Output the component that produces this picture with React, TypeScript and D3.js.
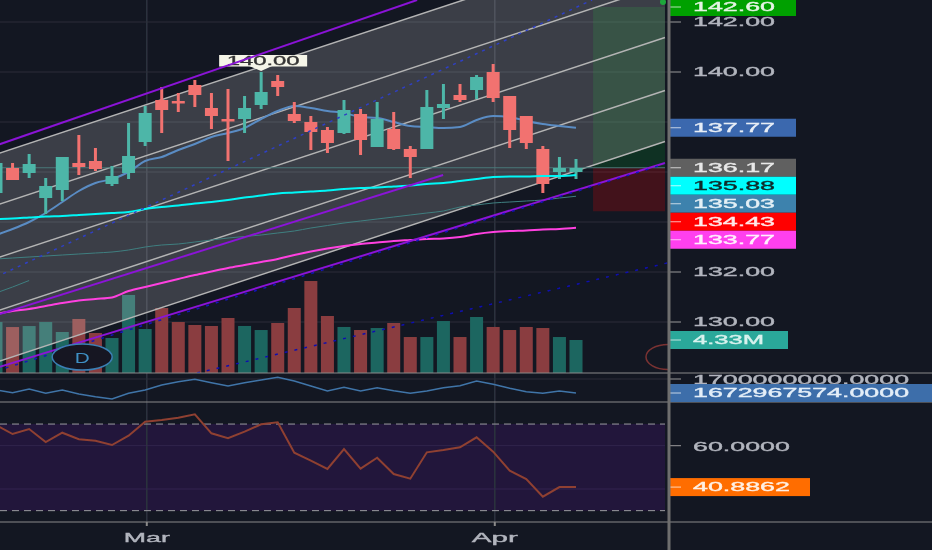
import React, { useEffect, useRef } from "react";
import * as d3 from "d3";

const WIDTH = 932;
const HEIGHT = 550;

// daily bars
const opens = [135.16, 136.16, 135.96, 134.96, 135.28, 136.36, 136.44, 135.52, 135.96, 137.2, 138.88, 138.84, 139.48, 138.56, 138.12, 138.12, 138.68, 139.64, 138.32, 138, 137.68, 137.56, 138.32, 137, 137.72, 136.92, 136.92, 138.56, 139.08, 139.28, 140, 139.04, 138.24, 136.92, 136, 136];
const highs = [136.36, 136.36, 136.72, 135.76, 136.6, 137.48, 136.96, 136.24, 137.96, 138.64, 139.4, 139.16, 139.68, 139.16, 139.32, 139.04, 140, 139.88, 138.8, 138.24, 137.8, 138.88, 138.52, 138.8, 138.4, 137.04, 139.28, 139.52, 139.52, 139.88, 140.32, 139.04, 138.24, 137.04, 136.6, 136.52];
const lows = [135.16, 135.68, 135.76, 134.32, 134.84, 135.88, 136.04, 135.44, 135.72, 137.04, 137.56, 138.4, 138.6, 137.72, 136.44, 137.56, 138.52, 139.04, 137.96, 136.88, 136.76, 137.52, 136.68, 137, 136.88, 135.76, 136.92, 138.12, 138.8, 138.92, 138.8, 136.96, 136.92, 135.16, 135.72, 135.72];
const closes = [136.36, 135.68, 136.32, 135.44, 136.6, 136.2, 136.12, 135.84, 136.64, 138.36, 138.48, 138.76, 139.08, 138.24, 138.04, 138.56, 139.2, 139.4, 138.04, 137.6, 137.16, 138.48, 137.28, 138.12, 136.92, 136.6, 138.6, 138.72, 138.88, 139.8, 138.96, 137.68, 137.16, 135.52, 136.16, 136.16];
const volumes = [6.69, 6.03, 6.16, 6.69, 5.38, 7.09, 5.25, 4.59, 10.24, 5.77, 8.53, 6.69, 6.3, 6.17, 7.22, 6.17, 5.64, 6.56, 8.53, 12.07, 7.48, 6.04, 5.64, 5.9, 6.56, 4.72, 4.72, 6.82, 4.72, 7.35, 6.04, 5.64, 6.04, 5.9, 4.72, 4.33];

// moving averages
const maBlue = [133.48, 133.72, 134, 134.36, 134.8, 135.24, 135.56, 135.72, 136, 136.44, 136.6, 136.88, 137.12, 137.4, 137.56, 137.76, 138.12, 138.44, 138.64, 138.56, 138.44, 138.36, 138.2, 138.16, 138, 137.84, 137.8, 137.76, 137.8, 138.08, 138.24, 138.2, 138.04, 137.92, 137.84, 137.77];
const maCyan = [134.12, 134.14, 134.18, 134.22, 134.24, 134.28, 134.32, 134.36, 134.4, 134.52, 134.6, 134.66, 134.74, 134.8, 134.88, 134.98, 135.06, 135.14, 135.18, 135.22, 135.26, 135.32, 135.36, 135.38, 135.42, 135.46, 135.52, 135.56, 135.64, 135.72, 135.8, 135.82, 135.82, 135.84, 135.84, 135.88];
const maPink = [130.32, 130.44, 130.52, 130.64, 130.76, 130.86, 130.92, 130.98, 131.24, 131.4, 131.56, 131.72, 131.88, 132.02, 132.16, 132.28, 132.4, 132.52, 132.68, 132.82, 132.94, 133.04, 133.12, 133.18, 133.24, 133.28, 133.32, 133.34, 133.4, 133.52, 133.6, 133.64, 133.66, 133.7, 133.72, 133.77];
const maTeal = [132.52, 132.56, 132.6, 132.64, 132.68, 132.72, 132.76, 132.8, 132.88, 133, 133.08, 133.12, 133.2, 133.28, 133.36, 133.42, 133.48, 133.56, 133.64, 133.76, 133.86, 133.96, 134.04, 134.12, 134.2, 134.28, 134.36, 134.44, 134.6, 134.68, 134.76, 134.8, 134.84, 134.88, 134.96, 135.03];
const maTealShort = [131.16, 131.4, 131.66];

// lower panes
const obv = [1678.8, 1673.6, 1680.7, 1672.4, 1678.8, 1671, 1665.8, 1661.4, 1672.4, 1678.8, 1688.4, 1694.8, 1699.4, 1692.9, 1686.5, 1692.9, 1698.1, 1703.3, 1696.1, 1686.5, 1676.8, 1684, 1676.8, 1683.2, 1677.4, 1672.4, 1676.8, 1683.2, 1687.1, 1696.1, 1689.8, 1682, 1675.5, 1672.4, 1676.8, 1672.97].map((d) => d * 1e6);
const rsi = [69.56, 65.4, 67.71, 61.71, 66, 62.96, 62.31, 60.32, 64.62, 71.09, 71.87, 72.93, 74.5, 65.73, 63.42, 66.47, 69.88, 70.81, 56.77, 53.07, 49.24, 58.48, 49.38, 54.46, 46.93, 44.76, 56.95, 58.01, 59.26, 63.88, 57.23, 48.45, 44.62, 36.44, 40.89, 40.89];

// drawn objects: [bar, price, bar, price]
const channelStartBar = 0;
const channelEndBar = 40.37;
const channelRise = 8.83;
const channelLevels = [136.71, 134.67, 132.55, 130.43, 128.39];
const purpleLines = [
  [0, 137.06, 25.41, 142.88],
  [0, 130.27, 26.98, 135.88],
  [0, 128.16, 40.37, 136.36],
];
const dottedUpper = [0, 131.8, 35.97, 142.88];
const dottedMiddle = [0, 128.04, 40.37, 136.32];
const dottedLower = [12.13, 127.96, 40.5, 132.36];

const positionBars = [36.03, 40.37];
const targetPrice = 142.6;
const entryPrice = 136.17;
const stopPrice = 134.43;
const highLabel = 140;

const priceTicks = [142, 140, 138, 136, 134, 132, 130];
const priceTickLabels = [142, 140, 132, 130];
const rsiGrid = [60, 40];
const monthLabels = ["Mar", "Apr"];
const monthBars = [9.1, 30.1];

// value tags: price, text, fill, text colour
const upperTags: [number, string, string, string][] = [
  [142.6, "142.60", "#00a000", "#e4f4e4"],
  [137.77, "137.77", "#3a68ae", "#e8eef6"],
];
const stackedTags: [number, string, string, string][] = [
  [136.17, "136.17", "#606060", "#e8e8e8"],
  [135.88, "135.88", "#00ffff", "#0b2a2a"],
  [135.03, "135.03", "#3d82ad", "#e4f0f6"],
  [134.43, "134.43", "#ff0000", "#ffe8e8"],
  [133.77, "133.77", "#ff40ee", "#fff0fd"],
];

const FONT = "'Liberation Sans', Arial, sans-serif";

// the source is a stretched screenshot, so text gets squeezed to a measured width
const textWidth = (s: string) =>
  Array.from(s).reduce((w, c) => w + (c === "." ? 7.5 : c === "M" ? 19 : 14.9), 0);

const App: React.FC = () => {
  const svgRef = useRef<SVGSVGElement | null>(null);

  useEffect(() => {
    if (!svgRef.current) return;
    const svg = d3.select(svgRef.current);
    svg.selectAll("*").remove();

    const bars = d3.range(opens.length);
    const x = d3.scaleLinear().domain([0, 35]).range([-4, 576]);
    const y = d3.scaleLinear().domain([130, 142]).range([322, 22]);
    const yVol = d3.scaleLinear().domain([0, 4.33]).range([373, 340]);
    const yObv = d3.scaleLinear().domain([1.7e9, 1672967574]).range([379, 393]);
    const yRsi = d3.scaleLinear().domain([60, 40]).range([445.7, 489]);

    const defs = svg.append("defs");
    defs.append("clipPath").attr("id", "main-clip").append("rect")
      .attr("x", 0).attr("y", 0).attr("width", 668).attr("height", 373);
    defs.append("filter").attr("id", "soft").append("feGaussianBlur").attr("stdDeviation", 0.5);

    svg.append("rect").attr("width", WIDTH).attr("height", HEIGHT).attr("fill", "#131722");

    const root = svg.append("g").attr("filter", "url(#soft)");

    // RSI band goes under the vertical grid
    root.append("rect").attr("x", 0).attr("width", 665).attr("y", yRsi(70)).attr("height", yRsi(30) - yRsi(70))
      .attr("fill", "#22173b");

    monthBars.forEach((b) => {
      root.append("line").attr("x1", x(b)).attr("x2", x(b)).attr("y1", 0).attr("y2", 522)
        .attr("stroke", "#2c303c").attr("stroke-width", 1.6);
    });

    const main = root.append("g").attr("clip-path", "url(#main-clip)");

    // Grid
    priceTicks.forEach((t) => {
      main.append("line").attr("x1", 0).attr("x2", 668).attr("y1", y(t)).attr("y2", y(t))
        .attr("stroke", "#2a2e39").attr("stroke-width", 1);
    });

    // Long position box, sits under the channel fill
    main.append("rect")
      .attr("x", x(positionBars[0])).attr("width", x(positionBars[1]) - x(positionBars[0]))
      .attr("y", y(targetPrice)).attr("height", y(entryPrice) - y(targetPrice))
      .attr("fill", "rgba(0,150,30,0.2)");
    main.append("rect")
      .attr("x", x(positionBars[0])).attr("width", x(positionBars[1]) - x(positionBars[0]))
      .attr("y", y(entryPrice)).attr("height", y(stopPrice) - y(entryPrice))
      .attr("fill", "rgba(255,0,0,0.2)");

    // Volume
    main.selectAll(".vol").data(bars).enter().append("rect")
      .attr("class", "vol")
      .attr("x", (i) => x(i) - 6.5).attr("width", 13)
      .attr("y", (i) => yVol(volumes[i]))
      .attr("height", (i) => yVol(0) - yVol(volumes[i]))
      .attr("fill", (i) => (closes[i] >= opens[i] ? "#1f6660" : "#8a3e3f"));

    // Channel
    const band = d3.area<number>()
      .x((b) => x(b))
      .y0((b) => y(channelLevels[4] + (channelRise * (b - channelStartBar)) / (channelEndBar - channelStartBar)))
      .y1((b) => y(channelLevels[0] + (channelRise * (b - channelStartBar)) / (channelEndBar - channelStartBar)));
    main.append("path").datum([channelStartBar, channelEndBar]).attr("d", band)
      .attr("fill", "rgba(255,255,255,0.17)");
    channelLevels.forEach((level) => {
      main.append("line")
        .attr("x1", x(channelStartBar)).attr("y1", y(level))
        .attr("x2", x(channelEndBar)).attr("y2", y(level + channelRise))
        .attr("stroke", "#b4b4b4").attr("stroke-width", 1.5);
    });

    main.append("line").attr("x1", 0).attr("x2", 665).attr("y1", y(entryPrice)).attr("y2", y(entryPrice))
      .attr("stroke", "#4a7a78").attr("stroke-width", 1);

    const maLine = d3.line<number>().x((_, i) => x(i)).y((d) => y(d)).curve(d3.curveMonotoneX);
    const drawMa = (values: number[], color: string, w: number) =>
      main.append("path").attr("d", maLine(values)).attr("fill", "none").attr("stroke", color).attr("stroke-width", w);

    drawMa(maTeal, "#3f7f80", 1);
    drawMa(maTealShort, "#3f7f80", 1);
    drawMa(maPink, "#ff40e0", 2);
    drawMa(maBlue, "#5a8cc4", 2);

    // Candles
    const candle = main.selectAll(".candle").data(bars).enter().append("g").attr("class", "candle");
    const candleColor = (i: number) => (closes[i] >= opens[i] ? "#4db6a8" : "#f2726f");
    candle.append("rect")
      .attr("x", (i) => x(i) - 1.5).attr("width", 3)
      .attr("y", (i) => y(highs[i])).attr("height", (i) => y(lows[i]) - y(highs[i]))
      .attr("fill", candleColor);
    candle.append("rect")
      .attr("x", (i) => x(i) - 6.5).attr("width", 13)
      .attr("y", (i) => y(Math.max(opens[i], closes[i])))
      .attr("height", (i) => Math.max(2.5, Math.abs(y(opens[i]) - y(closes[i]))))
      .attr("fill", candleColor);

    drawMa(maCyan, "#00f6f6", 2);

    // High label, the purple line crosses over it
    const hiBar = highs.indexOf(highLabel);
    main.append("path")
      .attr("d", d3.line()([[x(hiBar) - 12, 66], [x(hiBar) + 11, 66], [x(hiBar), 71]]))
      .attr("fill", "#f5f5e8");
    main.append("rect").attr("x", x(hiBar) - 42).attr("width", 88).attr("y", 55).attr("height", 11.5)
      .attr("fill", "#f5f5e8");
    main.append("text").attr("x", x(hiBar) + 2).attr("y", 65).attr("text-anchor", "middle")
      .attr("font-family", FONT).attr("font-size", 12).attr("fill", "#333")
      .attr("stroke", "#333").attr("stroke-width", 0.3)
      .attr("textLength", 73).attr("lengthAdjust", "spacingAndGlyphs").text(d3.format(".2f")(highLabel));

    // Trend lines
    const drawSegment = (s: number[], color: string, w: number, dash?: string) => {
      main.append("line")
        .attr("x1", x(s[0])).attr("y1", y(s[1])).attr("x2", x(s[2])).attr("y2", y(s[3]))
        .attr("stroke", color).attr("stroke-width", w).attr("stroke-dasharray", dash ?? null);
    };
    purpleLines.forEach((s) => drawSegment(s, "#8a12d6", 2));
    drawSegment(dottedUpper, "#2f3fc4", 1.5, "3 5");
    drawSegment(dottedMiddle, "#1414b8", 1.5, "3 7");
    drawSegment(dottedLower, "#1010b0", 1.5, "3 7");

    main.append("circle").attr("cx", x(positionBars[1]) - 2).attr("cy", 2).attr("r", 3).attr("fill", "#1fa83a");

    // Interval button and the clipped one on the right edge
    main.append("ellipse").attr("cx", x(5.2)).attr("cy", 357).attr("rx", 30).attr("ry", 13)
      .attr("fill", "#131722").attr("stroke", "#3b7fb5").attr("stroke-width", 1.5);
    main.append("text").attr("x", x(5.2)).attr("y", 362.5).attr("text-anchor", "middle")
      .attr("font-family", FONT).attr("font-size", 15).attr("fill", "#3f8fc4")
      .attr("textLength", 15).attr("lengthAdjust", "spacingAndGlyphs").text("D");
    main.append("ellipse").attr("cx", 668).attr("cy", 357).attr("rx", 22).attr("ry", 12.5)
      .attr("fill", "none").attr("stroke", "#7a3232").attr("stroke-width", 1.5);

    // OBV pane
    root.append("line").attr("x1", 0).attr("x2", 668).attr("y1", yObv(1.7e9)).attr("y2", yObv(1.7e9))
      .attr("stroke", "#2a2e39");
    root.append("path")
      .attr("d", d3.line<number>().x((_, i) => x(i)).y((d) => yObv(d))(obv))
      .attr("fill", "none").attr("stroke", "#3f74a8").attr("stroke-width", 1.5);

    // RSI pane
    rsiGrid.forEach((t) => {
      root.append("line").attr("x1", 0).attr("x2", 665).attr("y1", yRsi(t)).attr("y2", yRsi(t))
        .attr("stroke", "#33284e");
    });
    [70, 30].forEach((t) => {
      root.append("line").attr("x1", 0).attr("x2", 665).attr("y1", yRsi(t)).attr("y2", yRsi(t))
        .attr("stroke", "#9a9aa0").attr("stroke-width", 1).attr("stroke-dasharray", "7 5");
    });
    root.append("path")
      .attr("d", d3.line<number>().x((_, i) => x(i)).y((d) => yRsi(d))(rsi))
      .attr("fill", "none").attr("stroke", "#8f4030").attr("stroke-width", 2);

    // Pane separators and price scale border
    [373, 402, 522].forEach((py) => {
      root.append("line").attr("x1", 0).attr("x2", WIDTH).attr("y1", py).attr("y2", py)
        .attr("stroke", "#8a8a8a").attr("stroke-width", 1.2);
    });

    const drawScaleText = (py: number, s: string, color: string) => {
      root.append("text").attr("x", 693).attr("y", py + 4.3)
        .attr("font-family", FONT).attr("font-size", 12).attr("fill", color)
        .attr("stroke", color).attr("stroke-width", 0.35)
        .attr("textLength", textWidth(s)).attr("lengthAdjust", "spacingAndGlyphs").text(s);
    };
    const drawTick = (py: number, color: string) => {
      root.append("line").attr("x1", 670).attr("x2", 681).attr("y1", py).attr("y2", py)
        .attr("stroke", color).attr("stroke-width", 1);
    };
    const drawTag = (py: number, w: number, s: string, fill: string, color: string) => {
      root.append("rect").attr("x", 669).attr("width", w).attr("y", py - 9).attr("height", 18).attr("fill", fill);
      drawTick(py, "rgba(255,255,255,0.7)");
      drawScaleText(py, s, color);
    };

    priceTickLabels.forEach((t) => {
      drawTick(y(t), "#9a9a9a");
      drawScaleText(y(t), d3.format(".2f")(t), "#b2b5be");
    });
    upperTags.forEach(([p, s, fill, color]) => drawTag(y(p), 127, s, fill, color));
    let prevY = -Infinity;
    stackedTags.forEach(([p, s, fill, color]) => {
      const py = Math.max(y(p), prevY + 18);
      prevY = py;
      drawTag(py, 127, s, fill, color);
    });

    drawTag(yVol(volumes[35]), 119, "4.33M", "#2ca89a", "#d8f2ee");

    drawTick(yObv(1.7e9), "#9a9a9a");
    drawScaleText(yObv(1.7e9) + 0.5, "1700000000.0000", "#b2b5be");
    drawTag(yObv(1672967574), 263, d3.format(".4f")(1672967574), "#3d6eaa", "#e4eef8");

    drawTick(yRsi(60), "#9a9a9a");
    drawScaleText(yRsi(60) + 1, "60.0000", "#b2b5be");
    drawTag(yRsi(40.8862), 141, "40.8862", "#ff6d00", "#fff0e4");

    root.append("line").attr("x1", 669).attr("x2", 669).attr("y1", 0).attr("y2", HEIGHT)
      .attr("stroke", "#6e6e6e").attr("stroke-width", 3);

    // Time axis
    monthBars.forEach((b, i) => {
      root.append("line").attr("x1", x(b)).attr("x2", x(b)).attr("y1", 522).attr("y2", 526)
        .attr("stroke", "#8a8a8a").attr("stroke-width", 2);
      root.append("text").attr("x", x(b)).attr("y", 541.5).attr("text-anchor", "middle")
        .attr("font-family", FONT).attr("font-size", 13).attr("fill", "#b2b5be")
        .attr("stroke", "#b2b5be").attr("stroke-width", 0.35)
        .attr("textLength", 46).attr("lengthAdjust", "spacingAndGlyphs").text(monthLabels[i]);
    });
  }, []);

  return (
    <svg
      ref={svgRef}
      width={WIDTH}
      height={HEIGHT}
      style={{ position: "absolute", left: 0, top: 0, display: "block" }}
    />
  );
};

export default App;
